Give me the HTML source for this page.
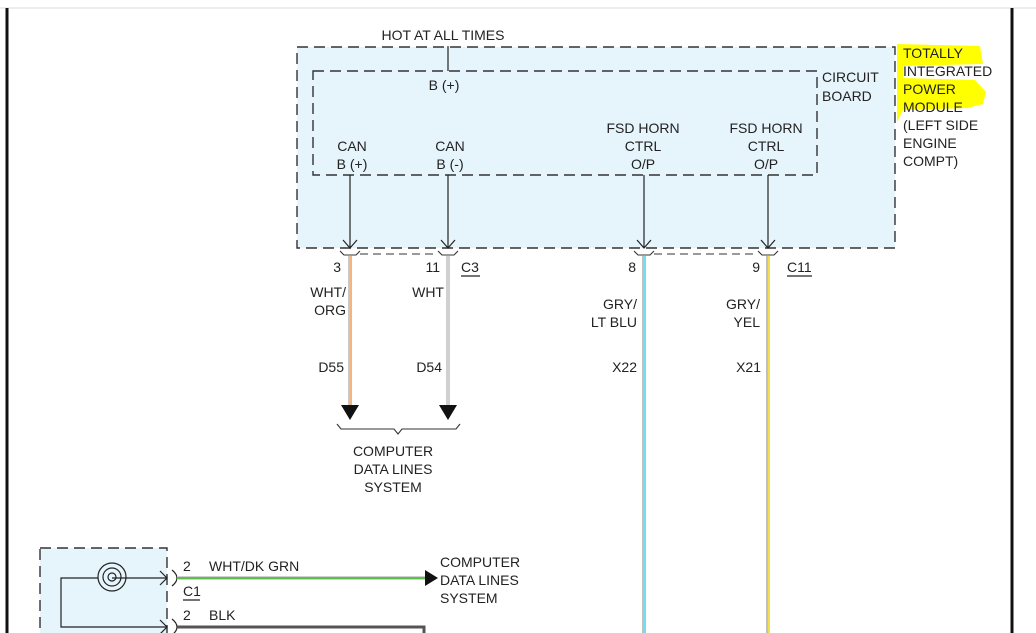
<!DOCTYPE html>
<html><head><meta charset="utf-8"><style>
html,body{margin:0;padding:0;background:#fff;}
svg{display:block;}
text{font-family:"Liberation Sans",Arial,sans-serif;font-size:14px;fill:#222;}
</style></head><body>
<svg width="1036" height="633" viewBox="0 0 1036 633" xmlns="http://www.w3.org/2000/svg">
<line x1="0" y1="8" x2="1036" y2="8" stroke="#ddd" stroke-width="1"/>
<line x1="7" y1="8" x2="7" y2="633" stroke="#111" stroke-width="3"/>
<line x1="1012" y1="8" x2="1012" y2="633" stroke="#111" stroke-width="3"/>

<rect x="297" y="47" width="598" height="201" fill="#e6f4fc" stroke="#333" stroke-width="1.4" stroke-dasharray="11,6"/>
<rect x="313" y="71" width="504" height="104" fill="#e6f4fc" stroke="#333" stroke-width="1.4" stroke-dasharray="11,6"/>
<line x1="448" y1="46" x2="448" y2="71" stroke="#222" stroke-width="1.2"/>
<text x="443" y="40" text-anchor="middle">HOT AT ALL TIMES</text>
<text x="444" y="90" text-anchor="middle">B (+)</text>
<text x="822" y="82">CIRCUIT</text>
<text x="822" y="101">BOARD</text>

<path d="M897,44 L980,46 L983,64 L903,66 L903,78 L975,80 L986,92 L983,104 L967,108 L903,110 L897,122 Z" fill="#ffff00"/>
<g>
<text x="903" y="58">TOTALLY</text>
<text x="903" y="76">INTEGRATED</text>
<text x="903" y="94">POWER</text>
<text x="903" y="112">MODULE</text>
<text x="903" y="130">(LEFT SIDE</text>
<text x="903" y="148">ENGINE</text>
<text x="903" y="166">COMPT)</text>
</g>

<text x="352" y="151" text-anchor="middle">CAN</text>
<text x="352" y="169" text-anchor="middle">B (+)</text>
<text x="450" y="151" text-anchor="middle">CAN</text>
<text x="450" y="169" text-anchor="middle">B (-)</text>
<text x="643" y="133" text-anchor="middle">FSD HORN</text>
<text x="643" y="151" text-anchor="middle">CTRL</text>
<text x="643" y="169" text-anchor="middle">O/P</text>
<text x="766" y="133" text-anchor="middle">FSD HORN</text>
<text x="766" y="151" text-anchor="middle">CTRL</text>
<text x="766" y="169" text-anchor="middle">O/P</text>

<g stroke="#222" stroke-width="1.2" fill="none">
<line x1="350" y1="175" x2="350" y2="248"/><path d="M343,240 L350,248 L357,240"/>
<line x1="448" y1="175" x2="448" y2="248"/><path d="M441,240 L448,248 L455,240"/>
<line x1="644" y1="175" x2="644" y2="248"/><path d="M637,240 L644,248 L651,240"/>
<line x1="768" y1="175" x2="768" y2="248"/><path d="M761,240 L768,248 L775,240"/>
</g>
<g stroke="#333" stroke-width="1.1" fill="none">
<path d="M340,251 L344,255 L356,255 L360,251"/>
<path d="M438,251 L442,255 L454,255 L458,251"/>
<path d="M634,251 L638,255 L650,255 L654,251"/>
<path d="M758,251 L762,255 L774,255 L778,251"/>
<line x1="360" y1="254" x2="438" y2="254" stroke-dasharray="8,5"/>
<line x1="654" y1="254" x2="758" y2="254" stroke-dasharray="8,5"/>
</g>

<rect x="348" y="256" width="4" height="150" fill="#c8c8c8"/><rect x="350" y="256" width="2" height="150" fill="#f5b57a"/>
<rect x="446" y="256" width="4" height="150" fill="#d0d0d0"/>
<rect x="642" y="256" width="4" height="377" fill="#c0c0c0"/><rect x="644" y="256" width="2" height="377" fill="#6fe0f0"/>
<rect x="766" y="256" width="4" height="377" fill="#c0c0c0"/><rect x="768" y="256" width="2" height="377" fill="#f5e04a"/>
<path d="M341,405 L359,405 L350,420 Z" fill="#111"/>
<path d="M439,405 L457,405 L448,420 Z" fill="#111"/>
<path d="M337,424 L341,429 L394,429 L398,434 L402,429 L456,429 L460,424" fill="none" stroke="#333" stroke-width="1.1"/>

<text x="341" y="272" text-anchor="end">3</text>
<text x="440" y="272" text-anchor="end">11</text>
<text x="461" y="272">C3</text><line x1="461" y1="276" x2="480" y2="276" stroke="#222" stroke-width="1.3"/>
<text x="346" y="297" text-anchor="end">WHT/</text>
<text x="346" y="315" text-anchor="end">ORG</text>
<text x="444" y="297" text-anchor="end">WHT</text>
<text x="344" y="372" text-anchor="end">D55</text>
<text x="442" y="372" text-anchor="end">D54</text>
<text x="636" y="272" text-anchor="end">8</text>
<text x="760" y="272" text-anchor="end">9</text>
<text x="787" y="272">C11</text><line x1="787" y1="276" x2="812" y2="276" stroke="#222" stroke-width="1.3"/>
<text x="637" y="309" text-anchor="end">GRY/</text>
<text x="637" y="327" text-anchor="end">LT BLU</text>
<text x="760" y="309" text-anchor="end">GRY/</text>
<text x="760" y="327" text-anchor="end">YEL</text>
<text x="637" y="372" text-anchor="end">X22</text>
<text x="761" y="372" text-anchor="end">X21</text>

<text x="393" y="456" text-anchor="middle">COMPUTER</text>
<text x="393" y="474" text-anchor="middle">DATA LINES</text>
<text x="393" y="492" text-anchor="middle">SYSTEM</text>

<rect x="40" y="548" width="127" height="100" fill="#e6f4fc" stroke="#333" stroke-width="1.4" stroke-dasharray="11,6"/>
<g fill="none" stroke="#222" stroke-width="1.2">
<circle cx="112" cy="577" r="4"/>
<circle cx="112" cy="577" r="9"/>
<circle cx="112" cy="577" r="14"/>
<line x1="112" y1="578" x2="167" y2="578"/><path d="M160,571 L167,578 L160,585"/>
<path d="M98,578 L61,578 L61,627 L167,627"/><path d="M160,620 L167,627 L160,634"/>
<path d="M172,570 Q177,574 177,578 Q177,582 172,586"/>
<path d="M172,619 Q177,623 177,627 Q177,631 172,635"/>
</g>
<rect x="177" y="576" width="250" height="4" fill="#d0d0d0"/><rect x="177" y="577" width="250" height="2" fill="#5cbf4a"/>
<path d="M425,570 L438,578 L425,586 Z" fill="#111"/>
<path d="M177,627 L424,627 L424,633" fill="none" stroke="#555" stroke-width="3"/>
<text x="183" y="571">2</text>
<text x="209" y="571">WHT/DK GRN</text>
<text x="183" y="596">C1</text><line x1="183" y1="600" x2="200" y2="600" stroke="#222" stroke-width="1.3"/>
<text x="183" y="620">2</text>
<text x="209" y="620">BLK</text>
<text x="440" y="567">COMPUTER</text>
<text x="440" y="585">DATA LINES</text>
<text x="440" y="603">SYSTEM</text>
</svg>
</body></html>
